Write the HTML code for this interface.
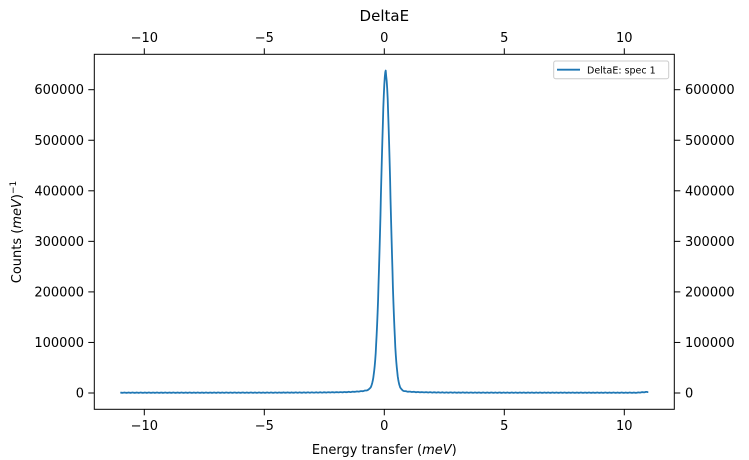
<!DOCTYPE html>
<html><head><meta charset="utf-8"><style>
html,body{margin:0;padding:0;background:#fff;}
svg{display:block;font-family:"DejaVu Sans","Liberation Sans",sans-serif;}
</style></head><body>
<svg id="s" width="749" height="460" xmlns="http://www.w3.org/2000/svg">
<rect width="749" height="460" fill="#fff"/>
<polyline id="ln" fill="none" stroke="#1f77b4" stroke-width="1.8" stroke-linejoin="round" points=""/>
<rect x="94.3" y="54.3" width="580" height="355" fill="none" stroke="#000" stroke-width="1"/>
<g id="ticks" stroke="#000" stroke-width="1"></g>
<g id="labels" font-size="13" fill="#000"></g>
<text x="384.3" y="21" font-size="15" text-anchor="middle">DeltaE</text>
<text x="384.3" y="454" font-size="13" text-anchor="middle">Energy transfer (<tspan font-style="italic">meV</tspan>)</text>
<text transform="translate(21,232) rotate(-90)" font-size="13" text-anchor="middle">Counts (<tspan font-style="italic">meV</tspan>)<tspan dy="-5" font-size="9">−1</tspan></text>
<rect x="553.7" y="61" width="115" height="17.7" rx="2" fill="#fff" stroke="#ccc" stroke-width="1"/>
<line x1="557" y1="69.7" x2="580" y2="69.7" stroke="#1f77b4" stroke-width="1.8"/>
<text x="587" y="73.5" font-size="9.5">DeltaE: spec 1</text>
</svg>
<script>
var X=function(v){return 384.3+24*v;}, Y=function(v){return 393-v*303.3/600000;};
var t=document.getElementById('ticks'),l=document.getElementById('labels'),ns='http://www.w3.org/2000/svg';
function ln(a,b,c,d){var e=document.createElementNS(ns,'line');e.setAttribute('x1',a);e.setAttribute('y1',b);e.setAttribute('x2',c);e.setAttribute('y2',d);t.appendChild(e);}
function tx(x,y,s,anc){var e=document.createElementNS(ns,'text');e.setAttribute('x',x);e.setAttribute('y',y);e.setAttribute('text-anchor',anc);e.textContent=s;l.appendChild(e);}
[-10,-5,0,5,10].forEach(function(v){var x=X(v);ln(x,409.3,x,415.3);ln(x,54.3,x,48.3);var s=v<0?'\u2212'+(-v):''+v;tx(x,430,s,'middle');tx(x,42,s,'middle');});
for(var k=0;k<=6;k++){var y=Y(k*100000);ln(94.3,y,88.3,y);ln(674.3,y,680.3,y);var s=k==0?'0':(k*100000)+'';tx(84,y+4.5,s,'end');tx(685,y+4.5,s,'start');}
var pts=[];
for(var x=-11;x<=11.0001;x+=0.02){
 var d=x-0.06;
 var g=615000*Math.exp(-d*d/(2*0.2*0.2));
 var gam=0.4, lz=(d<0?22000:14000)*gam*gam/(d*d+gam*gam);
 var v=g+lz+600;
 if(x>10.5)v+=(x-10.5)*3000;
 v+=(Math.sin(x*37)*0.5)*600;
 pts.push(X(x).toFixed(1)+','+Y(v).toFixed(1));
}
document.getElementById('ln').setAttribute('points',pts.join(' '));
</script>
</body></html>
